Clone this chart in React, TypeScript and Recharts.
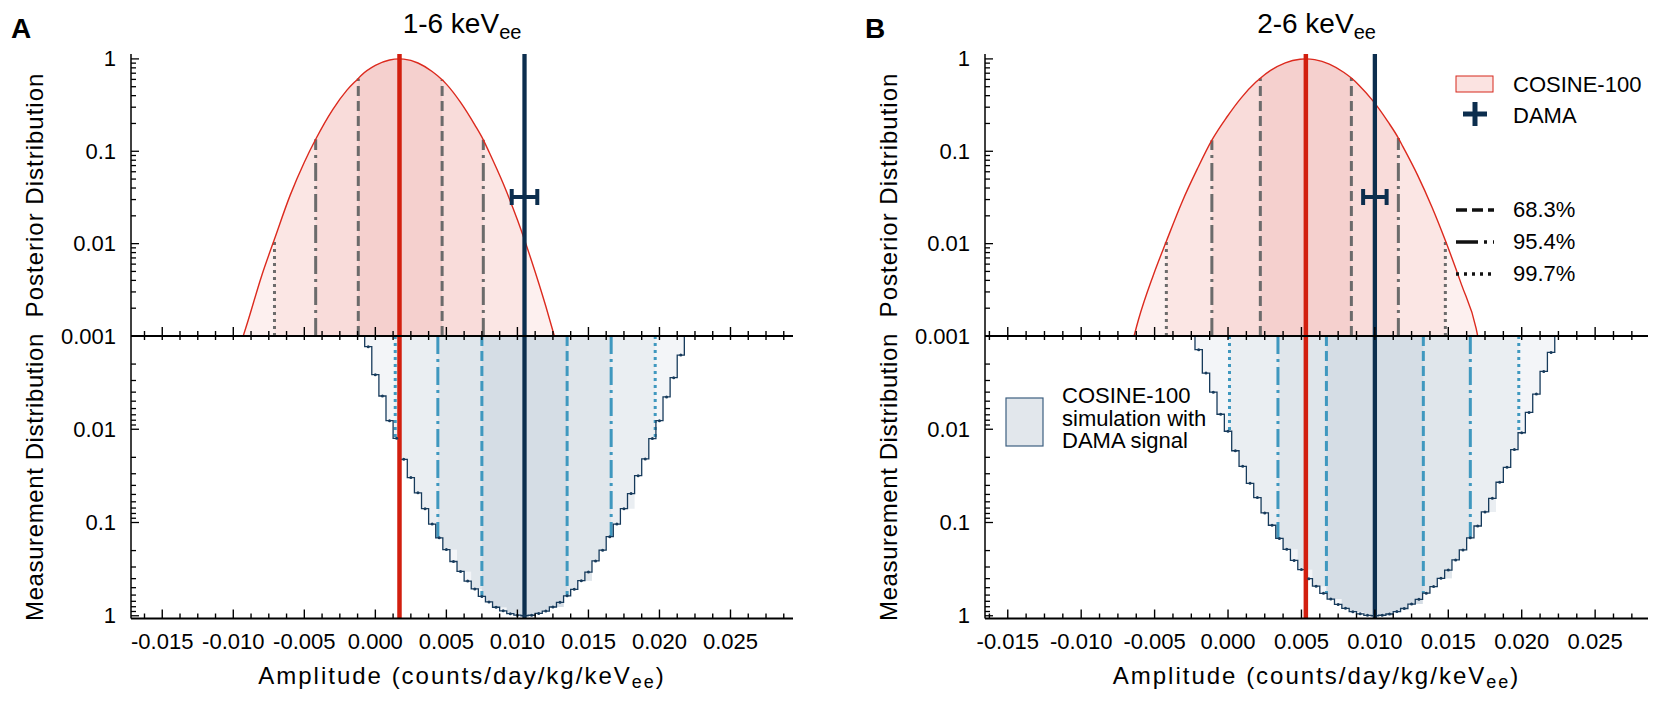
import React from 'react';
import { ComposedChart, Area, Line, Scatter, XAxis, YAxis, ReferenceLine, ErrorBar } from 'recharts';

const FONT = '"Liberation Sans", Arial, Helvetica, sans-serif';

// ---- panel A: 1-6 keVee ----
const postXA = [-0.0093, -0.0090, -0.0080, -0.0071, -0.0060, -0.0050, -0.0042, -0.0030, -0.0020, -0.0012, -0.0010, 0.0000, 0.0010, 0.0017, 0.0020, 0.0030, 0.0040, 0.0047, 0.0050, 0.0060, 0.0070, 0.0076, 0.0080, 0.0090, 0.0100, 0.0105, 0.0110, 0.0120, 0.0126];
const postYA = [0.0010, 0.0014, 0.0045, 0.0112, 0.0333, 0.0762, 0.135, 0.283, 0.459, 0.615, 0.662, 0.851, 0.974, 1.0, 0.994, 0.903, 0.730, 0.594, 0.533, 0.338, 0.193, 0.133, 0.0985, 0.0447, 0.0181, 0.0110, 0.0065, 0.0021, 0.0010];
const post99A: [number, number] = [-0.0071, 0.0105];
const post95A: [number, number] = [-0.0042, 0.0076];
const post68A: [number, number] = [-0.0012, 0.0047];

const measXA = [-0.0005, 0.0000, 0.0005, 0.0010, 0.0015, 0.0020, 0.0025, 0.0030, 0.0035, 0.0040, 0.0045, 0.0050, 0.0055, 0.0060, 0.0065, 0.0070, 0.0075, 0.0080, 0.0085, 0.0090, 0.0095, 0.0100, 0.0105, 0.0110, 0.0115, 0.0120, 0.0125, 0.0130, 0.0135, 0.0140, 0.0145, 0.0150, 0.0155, 0.0160, 0.0165, 0.0170, 0.0175, 0.0180, 0.0185, 0.0190, 0.0195, 0.0200, 0.0205, 0.0210, 0.0215];
const measYA = [0.0013, 0.0026, 0.0044, 0.0081, 0.0125, 0.021, 0.033, 0.048, 0.071, 0.104, 0.146, 0.195, 0.262, 0.335, 0.425, 0.515, 0.62, 0.71, 0.81, 0.885, 0.95, 0.985, 1.0, 0.988, 0.945, 0.89, 0.805, 0.718, 0.612, 0.52, 0.42, 0.34, 0.258, 0.198, 0.142, 0.104, 0.071, 0.049, 0.0315, 0.0208, 0.0126, 0.0081, 0.0045, 0.0028, 0.0016];
const meas99A: [number, number] = [0.0014, 0.0197];
const meas95A: [number, number] = [0.0044, 0.0166];
const meas68A: [number, number] = [0.0075, 0.0135];

// ---- panel B: 2-6 keVee ----
const postXB = [-0.0064, -0.0061, -0.0051, -0.0042, -0.0031, -0.0021, -0.0011, -0.0001, 0.0009, 0.0019, 0.0022, 0.0029, 0.0039, 0.0049, 0.0053, 0.0059, 0.0069, 0.0079, 0.0084, 0.0089, 0.0099, 0.0109, 0.0116, 0.0119, 0.0129, 0.0139, 0.0148, 0.0159, 0.0169, 0.0170];
const postYB = [0.0010, 0.0015, 0.0045, 0.0106, 0.029, 0.064, 0.132, 0.232, 0.379, 0.561, 0.618, 0.750, 0.907, 0.992, 1.0, 0.982, 0.880, 0.713, 0.620, 0.523, 0.347, 0.208, 0.139, 0.113, 0.0555, 0.0246, 0.0108, 0.0036, 0.0012, 0.0010];
const post99B: [number, number] = [-0.0042, 0.0148];
const post95B: [number, number] = [-0.0011, 0.0116];
const post68B: [number, number] = [0.0022, 0.0084];

const measXB = [-0.0020, -0.0015, -0.0010, -0.0005, 0.0000, 0.0005, 0.0010, 0.0015, 0.0020, 0.0025, 0.0030, 0.0035, 0.0040, 0.0045, 0.0050, 0.0055, 0.0060, 0.0065, 0.0070, 0.0075, 0.0080, 0.0085, 0.0090, 0.0095, 0.0100, 0.0105, 0.0110, 0.0115, 0.0120, 0.0125, 0.0130, 0.0135, 0.0140, 0.0145, 0.0150, 0.0155, 0.0160, 0.0165, 0.0170, 0.0175, 0.0180, 0.0185, 0.0190, 0.0195, 0.0200, 0.0205, 0.0210, 0.0215, 0.0220];
const measYB = [0.0014, 0.0025, 0.0040, 0.0069, 0.0105, 0.0170, 0.025, 0.038, 0.054, 0.079, 0.107, 0.148, 0.194, 0.255, 0.320, 0.40, 0.482, 0.575, 0.663, 0.755, 0.832, 0.905, 0.954, 0.99, 1.0, 0.987, 0.957, 0.901, 0.836, 0.75, 0.667, 0.572, 0.486, 0.397, 0.324, 0.252, 0.197, 0.146, 0.109, 0.077, 0.055, 0.037, 0.0256, 0.0165, 0.0109, 0.0066, 0.0042, 0.0024, 0.0015];
const meas99B: [number, number] = [0.0001, 0.0198];
const meas95B: [number, number] = [0.0034, 0.0165];
const meas68B: [number, number] = [0.0067, 0.0133];

// best fits and DAMA point
const cosineA = 0.0017;
const cosineB = 0.0053;
const damaA = 0.0105;
const damaB = 0.0100;
const damaErrA = 0.0009;
const damaErrB = 0.0008;
const DAMA_Y = 0.032;

// axes
const xDomainA: [number, number] = [-0.0172, 0.0294];
const xDomainB: [number, number] = [-0.01655, 0.0286];
const xMajorTicks = [-0.015, -0.010, -0.005, 0.000, 0.005, 0.010, 0.015, 0.020, 0.025];
const X_MINOR = 0.00125;
const yMajorTicks = [0.001, 0.01, 0.1, 1];
const BIN = 0.0005;

const RED = '#d21f0f';
const NAVY = '#0c2e4e';
const HIST = '#173b5c';
const GREY = '#6b6b6b';
const BLUE = '#3f98bf';
const PINK = ['#fdf0ef', '#fbe6e4', '#f9dcda', '#f5d0ce'];
const SLATE = ['#f3f5f8', '#eaeef2', '#e0e6eb', '#d5dde5'];
const DASH = { b68: '10 5', b95: '18 5 3 5', b99: '3 4' };

type Band = [number, number];

const xTicksFor = (dom: Band) => {
  const out: number[] = [];
  for (let k = Math.ceil(dom[0] / X_MINOR); k * X_MINOR <= dom[1]; k++) out.push(k * X_MINOR);
  return out;
};
const yTicks = (() => {
  const out: number[] = [];
  yMajorTicks.slice(0, -1).forEach((d) => {
    for (let m = 1; m < 10; m++) out.push(m * d);
  });
  out.push(1);
  return out;
})();

const isMajorX = (v: number) => xMajorTicks.some((t) => Math.abs(t - v) < 1e-7);
const isMajorY = (v: number) => yMajorTicks.some((t) => Math.abs(t - v) < t * 1e-6);
const fmtX = (v: number) => (Math.abs(v) < 1e-9 ? '0.000' : v.toFixed(3));

const midTick = (props: any) => {
  const { x, y, payload } = props;
  const h = isMajorX(payload.value) ? 9 : 5;
  return <line x1={x} x2={x} y1={y - h} y2={y + h} stroke="#000" strokeWidth={1.4} />;
};

const bottomTick = (props: any) => {
  const { x, y, payload } = props;
  const major = isMajorX(payload.value);
  return (
    <g>
      <line x1={x} x2={x} y1={y} y2={y - (major ? 9 : 5)} stroke="#000" strokeWidth={1.4} />
      {major && (
        <text x={x} y={y + 30} textAnchor="middle" fontSize={22} fontFamily={FONT} fill="#000">
          {fmtX(payload.value)}
        </text>
      )}
    </g>
  );
};

// the 0.001 label sits on the shared middle line, so only the lower chart writes it
const makeYTick = (skipMin: boolean) => (props: any) => {
  const { x, y, payload } = props;
  const v = payload.value;
  const major = isMajorY(v);
  const label = major && !(skipMin && Math.abs(v - 0.001) < 1e-9);
  return (
    <g>
      <line x1={x} x2={x + (major ? 8 : 5)} y1={y} y2={y} stroke="#000" strokeWidth={1.3} />
      {label && (
        <text x={x - 15} y={y + 7.5} textAnchor="end" fontSize={22} fontFamily={FONT} fill="#000">
          {String(v)}
        </text>
      )}
    </g>
  );
};

function buildPostTable(xs: number[], ys: number[], b99: Band, b95: Band, b68: Band) {
  return xs.map((x, i) => {
    const p = ys[i];
    const inBand = (b: Band) => (x >= b[0] - 1e-9 && x <= b[1] + 1e-9 ? p : null);
    return { x, p, b99: inBand(b99), b95: inBand(b95), b68: inBand(b68) };
  });
}

function stepAt(cs: number[], vs: number[], x: number) {
  for (let i = 0; i < cs.length; i++) {
    if (x >= cs[i] - BIN / 2 && x < cs[i] + BIN / 2) return vs[i];
  }
  return undefined;
}

function buildMeasTable(cs: number[], vs: number[], b99: Band, b95: Band, b68: Band) {
  const first = cs[0] - BIN / 2;
  const last = cs[cs.length - 1] + BIN / 2;
  const rows: { x: number; m: number | undefined }[] = [{ x: first, m: 0.001 }];
  cs.forEach((c, i) => rows.push({ x: c - BIN / 2, m: vs[i] }));
  rows.push({ x: last, m: vs[vs.length - 1] });
  rows.push({ x: last, m: 0.001 });
  [...b99, ...b95, ...b68].forEach((e) => rows.push({ x: e, m: stepAt(cs, vs, e) }));
  rows.sort((a, b) => a.x - b.x);
  return rows.map((r) => {
    const inBand = (b: Band) => (r.x >= b[0] && r.x <= b[1] ? stepAt(cs, vs, r.x) ?? null : null);
    return { ...r, b99: inBand(b99), b95: inBand(b95), b68: inBand(b68) };
  });
}

interface PanelProps {
  left: number;
  rightMargin: number;
  domain: Band;
  postX: number[];
  postY: number[];
  post99: Band;
  post95: Band;
  post68: Band;
  measX: number[];
  measY: number[];
  meas99: Band;
  meas95: Band;
  meas68: Band;
  cosine: number;
  dama: number;
  damaErr: number;
}

function Panel(p: PanelProps) {
  const postTable = buildPostTable(p.postX, p.postY, p.post99, p.post95, p.post68);
  const measTable = buildMeasTable(p.measX, p.measY, p.meas99, p.meas95, p.meas68);
  const measDots = p.measX.map((x, i) => ({ x, y: p.measY[i] }));
  const damaPoint = [{ x: p.dama, y: DAMA_Y, err: p.damaErr }];
  const xt = xTicksFor(p.domain);
  const postAt = (e: number) => p.postY[p.postX.indexOf(e)];
  const postEdges = [
    ...p.post99.map((e) => ({ e, dash: DASH.b99 })),
    ...p.post95.map((e) => ({ e, dash: DASH.b95 })),
    ...p.post68.map((e) => ({ e, dash: DASH.b68 })),
  ];
  const measEdges = [
    ...p.meas99.map((e) => ({ e, dash: DASH.b99 })),
    ...p.meas95.map((e) => ({ e, dash: DASH.b95 })),
    ...p.meas68.map((e) => ({ e, dash: DASH.b68 })),
  ];
  const margin = { left: 71, right: p.rightMargin };

  return (
    <div style={{ position: 'absolute', left: p.left, top: 0, width: 800, height: 706 }}>
      {/* lower half: measurement distribution, reversed log axis */}
      <div style={{ position: 'absolute', left: 0, top: 0 }}>
        <ComposedChart width={800} height={706} data={measTable} margin={{ ...margin, top: 336, bottom: 27.5 }}>
          <XAxis type="number" dataKey="x" domain={p.domain} allowDataOverflow ticks={xt} interval={0}
            tickLine={false} tickSize={0} tickMargin={0} tick={bottomTick}
            axisLine={{ stroke: '#000', strokeWidth: 2 }} height={60} />
          <YAxis type="number" scale="log" reversed domain={[0.001, 1.07]} allowDataOverflow ticks={yTicks} interval={0}
            tickLine={false} tickSize={0} tickMargin={0} tick={makeYTick(false)}
            axisLine={{ stroke: '#000', strokeWidth: 1.5 }} width={60} />
          <Area type="stepAfter" dataKey="m" baseValue={0.001} stroke="none" fill={SLATE[0]} fillOpacity={1} isAnimationActive={false} activeDot={false} />
          <Area type="stepAfter" dataKey="b99" baseValue={0.001} stroke="none" fill={SLATE[1]} fillOpacity={1} isAnimationActive={false} activeDot={false} />
          <Area type="stepAfter" dataKey="b95" baseValue={0.001} stroke="none" fill={SLATE[2]} fillOpacity={1} isAnimationActive={false} activeDot={false} />
          <Area type="stepAfter" dataKey="b68" baseValue={0.001} stroke="none" fill={SLATE[3]} fillOpacity={1} isAnimationActive={false} activeDot={false} />
          {measEdges.map(({ e, dash }) => (
            <ReferenceLine key={`m${e}`} segment={[{ x: e, y: 0.001 }, { x: e, y: stepAt(p.measX, p.measY, e) as number }]}
              stroke={BLUE} strokeWidth={3} strokeDasharray={dash} />
          ))}
          <Line type="stepAfter" dataKey="m" stroke={HIST} strokeWidth={1.3} dot={false} activeDot={false} isAnimationActive={false} />
          <Scatter data={measDots} dataKey="y" isAnimationActive={false}
            shape={(s: any) => <circle cx={s.cx} cy={s.cy} r={1.5} fill={HIST} />} />
          <ReferenceLine x={p.cosine} stroke={RED} strokeWidth={4.5} />
          <ReferenceLine x={p.dama} stroke={NAVY} strokeWidth={4.3} />
        </ComposedChart>
      </div>
      {/* upper half: posterior distribution */}
      <div style={{ position: 'absolute', left: 0, top: 0 }}>
        <ComposedChart width={800} height={340} data={postTable} margin={{ ...margin, top: 54, bottom: 0 }}>
          <XAxis type="number" dataKey="x" domain={p.domain} allowDataOverflow ticks={xt} interval={0}
            tickLine={false} tickSize={0} tickMargin={0} tick={midTick}
            axisLine={{ stroke: '#000', strokeWidth: 2 }} height={4} />
          <YAxis type="number" scale="log" domain={[0.001, 1.13]} allowDataOverflow ticks={yTicks} interval={0}
            tickLine={false} tickSize={0} tickMargin={0} tick={makeYTick(true)}
            axisLine={{ stroke: '#000', strokeWidth: 1.5 }} width={60} />
          <Area type="monotone" dataKey="p" baseValue={0.001} stroke="none" fill={PINK[0]} fillOpacity={1} isAnimationActive={false} activeDot={false} />
          <Area type="monotone" dataKey="b99" baseValue={0.001} stroke="none" fill={PINK[1]} fillOpacity={1} isAnimationActive={false} activeDot={false} />
          <Area type="monotone" dataKey="b95" baseValue={0.001} stroke="none" fill={PINK[2]} fillOpacity={1} isAnimationActive={false} activeDot={false} />
          <Area type="monotone" dataKey="b68" baseValue={0.001} stroke="none" fill={PINK[3]} fillOpacity={1} isAnimationActive={false} activeDot={false} />
          {postEdges.map(({ e, dash }) => (
            <ReferenceLine key={`p${e}`} segment={[{ x: e, y: 0.001 }, { x: e, y: postAt(e) }]}
              stroke={GREY} strokeWidth={3} strokeDasharray={dash} />
          ))}
          <Line type="monotone" dataKey="p" stroke="#dc2a1e" strokeWidth={1.4} dot={false} activeDot={false} isAnimationActive={false} />
          <ReferenceLine x={p.cosine} stroke={RED} strokeWidth={4.5} />
          <ReferenceLine x={p.dama} stroke={NAVY} strokeWidth={4.3} />
          <Scatter data={damaPoint} dataKey="y" isAnimationActive={false} shape={() => <g />}>
            <ErrorBar dataKey="err" direction="x" width={8} strokeWidth={4} stroke={NAVY} isAnimationActive={false} />
          </Scatter>
        </ComposedChart>
      </div>
    </div>
  );
}

function Overlay() {
  const panels = [
    { dx: 0, letter: 'A', title: '1-6 keV', cx: 462 },
    { dx: 854, letter: 'B', title: '2-6 keV', cx: 1316.5 },
  ];
  return (
    <svg width={1660} height={706} fontFamily={FONT}
      style={{ position: 'absolute', left: 0, top: 0, pointerEvents: 'none' }}>
      {panels.map((q) => (
        <g key={q.letter}>
          <text x={11 + q.dx} y={38} fontSize={28} fontWeight="bold" fill="#000">{q.letter}</text>
          <text x={q.cx} y={33} textAnchor="middle" fontSize={28} fill="#000">
            {q.title}
            <tspan fontSize={20} dy={6}>ee</tspan>
          </text>
          <text transform={`translate(${43 + q.dx},195) rotate(-90)`} textAnchor="middle" fontSize={24} letterSpacing={1} fill="#000">
            Posterior Distribution
          </text>
          <text transform={`translate(${43 + q.dx},477) rotate(-90)`} textAnchor="middle" fontSize={24} letterSpacing={0.6} fill="#000">
            Measurement Distribution
          </text>
          <text x={q.cx} y={684} textAnchor="middle" fontSize={24} letterSpacing={2} fill="#000">
            Amplitude (counts/day/kg/keV
            <tspan fontSize={18} dy={4}>ee</tspan>
            <tspan dy={-4}>)</tspan>
          </text>
        </g>
      ))}
      {/* legend, panel B upper right */}
      <rect x={1456} y={76} width={37} height={16} fill="#fbe3e1" stroke="#d6281c" strokeWidth={1} />
      <text x={1513} y={91.5} fontSize={22} fill="#000">COSINE-100</text>
      <line x1={1463} x2={1487} y1={114} y2={114} stroke={NAVY} strokeWidth={5} />
      <line x1={1475} x2={1475} y1={102} y2={126} stroke={NAVY} strokeWidth={5} />
      <text x={1513} y={123} fontSize={22} fill="#000">DAMA</text>
      <line x1={1456} x2={1494} y1={210} y2={210} stroke="#111" strokeWidth={3.5} strokeDasharray="11 5" />
      <text x={1513} y={217} fontSize={22} fill="#000">68.3%</text>
      <line x1={1456} x2={1494} y1={242} y2={242} stroke="#111" strokeWidth={3.5} strokeDasharray="22 6 3 6" />
      <text x={1513} y={249} fontSize={22} fill="#000">95.4%</text>
      <line x1={1456} x2={1494} y1={274} y2={274} stroke="#111" strokeWidth={3.5} strokeDasharray="3 5" />
      <text x={1513} y={281} fontSize={22} fill="#000">99.7%</text>
      {/* legend, panel B lower left */}
      <rect x={1006} y={398} width={37} height={48} fill="#e2e7ec" stroke="#3d5f80" strokeWidth={1.2} />
      <text x={1062} y={403} fontSize={22} fill="#000">COSINE-100</text>
      <text x={1062} y={425.5} fontSize={22} fill="#000">simulation with</text>
      <text x={1062} y={448} fontSize={22} fill="#000">DAMA signal</text>
    </svg>
  );
}

export default function App() {
  return (
    <div style={{ position: 'absolute', left: 0, top: 0, width: 1660, height: 706, background: '#fff', overflow: 'hidden', fontFamily: FONT }}>
      <Panel left={0} rightMargin={7} domain={xDomainA}
        postX={postXA} postY={postYA} post99={post99A} post95={post95A} post68={post68A}
        measX={measXA} measY={measYA} meas99={meas99A} meas95={meas95A} meas68={meas68A}
        cosine={cosineA} dama={damaA} damaErr={damaErrA} />
      <Panel left={854} rightMargin={6} domain={xDomainB}
        postX={postXB} postY={postYB} post99={post99B} post95={post95B} post68={post68B}
        measX={measXB} measY={measYB} meas99={meas99B} meas95={meas95B} meas68={meas68B}
        cosine={cosineB} dama={damaB} damaErr={damaErrB} />
      <Overlay />
    </div>
  );
}
